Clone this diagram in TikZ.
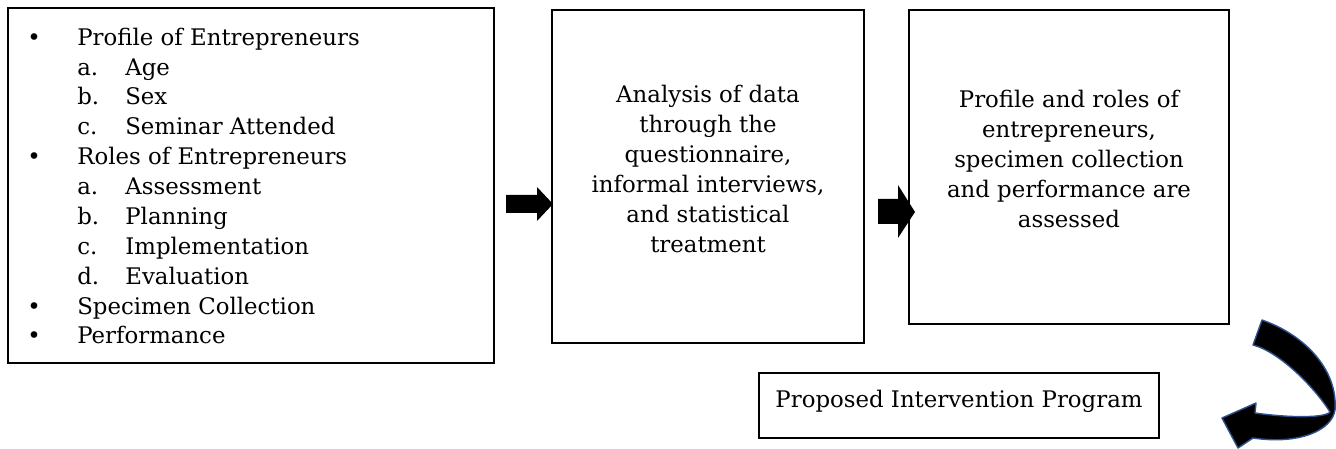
\documentclass[tikz,border=0pt]{standalone}
\usepackage{fontspec}
\setmainfont{DejaVu Serif}
\usetikzlibrary{positioning}
\definecolor{arrowrim}{RGB}{47,82,143}
\tikzstyle{stage} = [rectangle, draw=black, line width=1.4pt, inner sep=0pt]
\tikzstyle{stagetext} = [align=center, inner sep=0pt, font=\fontsize{13}{17}\selectfont]
\tikzstyle{blockarrow} = [fill=black]
\tikzstyle{bentarrow} = [fill=black, draw=arrowrim, line width=0.8pt, line join=round]

\begin{document}
\begin{tikzpicture}[x=0.02cm, y=-0.02cm]
\useasboundingbox (0,0) rectangle (1336,449);
	% boxes
	\node (inputs) [stage, minimum width=9.72cm, minimum height=7.1cm] at (251,185.5) {};
	\node (analysis) [stage, minimum width=6.24cm, minimum height=6.66cm] at (708,176.5) {};
	\node (outputs) [stage, minimum width=6.4cm, minimum height=6.28cm] at (1069,167) {};
	\node (program) [stage, minimum width=8cm, minimum height=1.3cm] at (959,405.5) {};
	% texts
	\node (inputlist) [anchor=north west, inner sep=0pt, font=\fontsize{13}{17}\selectfont] at (27,24) {%
		\begin{tabular}{@{}p{1cm}@{}p{0.96cm}@{}l@{}}
			\textbullet & \multicolumn{2}{@{}l@{}}{Profile of Entrepreneurs}\\
			& a. & Age\\
			& b. & Sex\\
			& c. & Seminar Attended\\
			\textbullet & \multicolumn{2}{@{}l@{}}{Roles of Entrepreneurs}\\
			& a. & Assessment\\
			& b. & Planning\\
			& c. & Implementation\\
			& d. & Evaluation\\
			\textbullet & \multicolumn{2}{@{}l@{}}{Specimen Collection}\\
			\textbullet & \multicolumn{2}{@{}l@{}}{Performance}
		\end{tabular}};
	\node (analysistext) [stagetext] at (708,169) {Analysis of data\\through the\\questionnaire,\\informal interviews,\\and statistical\\treatment};
	\node (outputstext) [stagetext] at (1069,159) {Profile and roles of\\entrepreneurs,\\specimen collection\\and performance are\\assessed};
	\node (programtext) [stagetext, anchor=base] at (959,407) {Proposed Intervention Program};
	% arrows
	\fill [blockarrow] (506,195) -- (537,195) -- (537,187) -- (553,204) -- (537,221) -- (537,213) -- (506,213) -- cycle;
	\fill [blockarrow] (878,199) -- (898,199) -- (898,185) -- (915,212) -- (898,238) -- (898,224) -- (878,224) -- cycle;
	\filldraw [bentarrow] (1262,320) .. controls (1305,335) and (1338,370) .. (1335,410)
		.. controls (1332,430) and (1300,445) .. (1253,438)
		-- (1238,448) -- (1222,418) -- (1256,403) -- (1255,413)
		.. controls (1290,418) and (1325,418) .. (1330,412)
		.. controls (1315,388) and (1280,352) .. (1253,345) -- cycle;
\end{tikzpicture}
\end{document}
